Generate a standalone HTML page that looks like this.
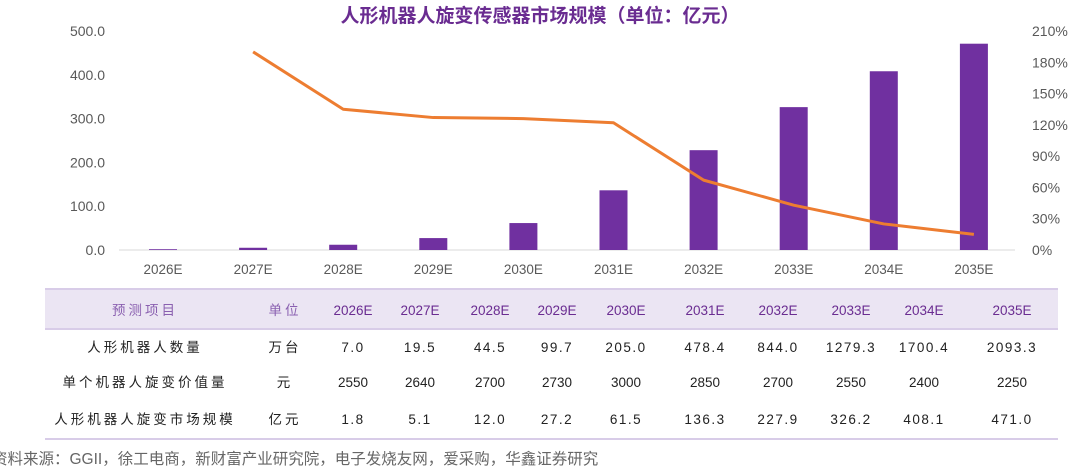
<!DOCTYPE html>
<html><head><meta charset="utf-8"><style>
body{margin:0;width:1080px;height:466px;background:#fff;overflow:hidden;font-family:"Liberation Sans","Noto Sans CJK SC",sans-serif;}
svg{position:absolute;left:0;top:0}
</style></head><body>
<svg width="1080" height="466">
<text x="540" y="22" text-anchor="middle" font-size="19" font-weight="bold" fill="#6a2c91" font-family="Liberation Sans, Noto Sans CJK SC, sans-serif">人形机器人旋变传感器市场规模（单位：亿元）</text>
<g id="axes"></g><g id="bars"></g><g id="line"></g>
<g id="table"></g>
<text x="-8" y="464" font-size="15.5" fill="#666" font-family="Liberation Sans, Noto Sans CJK SC, sans-serif">资料来源：GGII，徐工电商，新财富产业研究院，电子发烧友网，爱采购，华鑫证券研究</text>
</svg>
<script>
const categories=["2026E","2027E","2028E","2029E","2030E","2031E","2032E","2033E","2034E","2035E"];
const marketSize=[1.8,5.1,12.0,27.2,61.5,136.3,227.9,326.2,408.1,471.0];
const growth=[null,190,135,127,126,122,67,43,25,15];
const leftTicks=[0,100,200,300,400,500];
const rightTicks=[0,30,60,90,120,150,180,210];
const rowNames=["人形机器人数量","单个机器人旋变价值量","人形机器人旋变市场规模"];
const rowUnits=["万台","元","亿元"];
const rowQty=["7.0","19.5","44.5","99.7","205.0","478.4","844.0","1279.3","1700.4","2093.3"];
const rowPrice=["2550","2640","2700","2730","3000","2850","2700","2550","2400","2250"];
const rowMarket=["1.8","5.1","12.0","27.2","61.5","136.3","227.9","326.2","408.1","471.0"];
const NS="http://www.w3.org/2000/svg";
function mk(p,t,a,txt){const e=document.createElementNS(NS,t);for(const k in a)e.setAttribute(k,a[k]);if(txt!==undefined)e.textContent=txt;p.appendChild(e);return e;}
const y0=250,yTop=31;
const yL=v=>y0-v/500*(y0-yTop);
const yR=v=>y0-v/210*(y0-yTop);
const xC=i=>163+i*90.1;
const axes=document.getElementById('axes');
leftTicks.forEach(t=>{const e=mk(axes,'text',{x:105,y:yL(t)+5,'text-anchor':'end','font-size':14,fill:'#595959'},t.toFixed(1));

});
rightTicks.forEach(t=>{const e=mk(axes,'text',{x:1032,y:yR(t)+5,'font-size':14,fill:'#595959'},t+'%');

});
const bl=mk(axes,'line',{x1:119,x2:1015,y1:y0,y2:y0,stroke:'#d9d9d9','stroke-width':1});


categories.forEach((c,i)=>{const e=mk(axes,'text',{x:xC(i),y:274,'text-anchor':'middle','font-size':13.5,fill:'#595959'},c);

});
const bars=document.getElementById('bars');
marketSize.forEach((v,i)=>{const h=y0-yL(v);const r=mk(bars,'rect',{x:xC(i)-14,y:yL(v),width:28,height:Math.max(h,0.8),fill:'#7030a0'});

});
const pts=growth.map((g,i)=>g===null?null:[xC(i),yR(g)]).filter(p=>p);
const pl=mk(document.getElementById('line'),'polyline',{points:pts.map(p=>p.join(',')).join(' '),fill:'none',stroke:'#ed7d31','stroke-width':3,'stroke-linejoin':'round'});


const tb=document.getElementById('table');
const hb=mk(tb,'rect',{x:45,y:289,width:1013,height:40,fill:'#ebe5f3'});


[289,329,439].forEach(y=>{const l=mk(tb,'line',{x1:45,x2:1058,y1:y,y2:y,stroke:'#d8cce8','stroke-width':2});

});
const colX=[353,420,490,557,626,705,778,851,924,1012];
const f='Liberation Sans, Noto Sans CJK SC, sans-serif';
function cell(x,y,t,col,name,ls){const e=mk(tb,'text',{x:x,y:y,'text-anchor':'middle','font-size':13.5,fill:col,'font-family':f,'letter-spacing':ls||0},t);

}
cell(145,315,'预测项目','#8a60b0','header-item',3);
cell(285,315,'单位','#8a60b0','header-unit',3);
categories.forEach((c,i)=>cell(colX[i],315,c,'#6a2c91','header-year'));
const rows=[rowQty,rowPrice,rowMarket];const ry=[352,387,424];
rows.forEach((r,j)=>{cell(145,ry[j],rowNames[j],'#222','row-name',3);cell(285,ry[j],rowUnits[j],'#222','row-unit',3);
r.forEach((v,i)=>cell(colX[i],ry[j],v,'#222','row-value',j===1?0:1.5));});
</script>
</body></html>
